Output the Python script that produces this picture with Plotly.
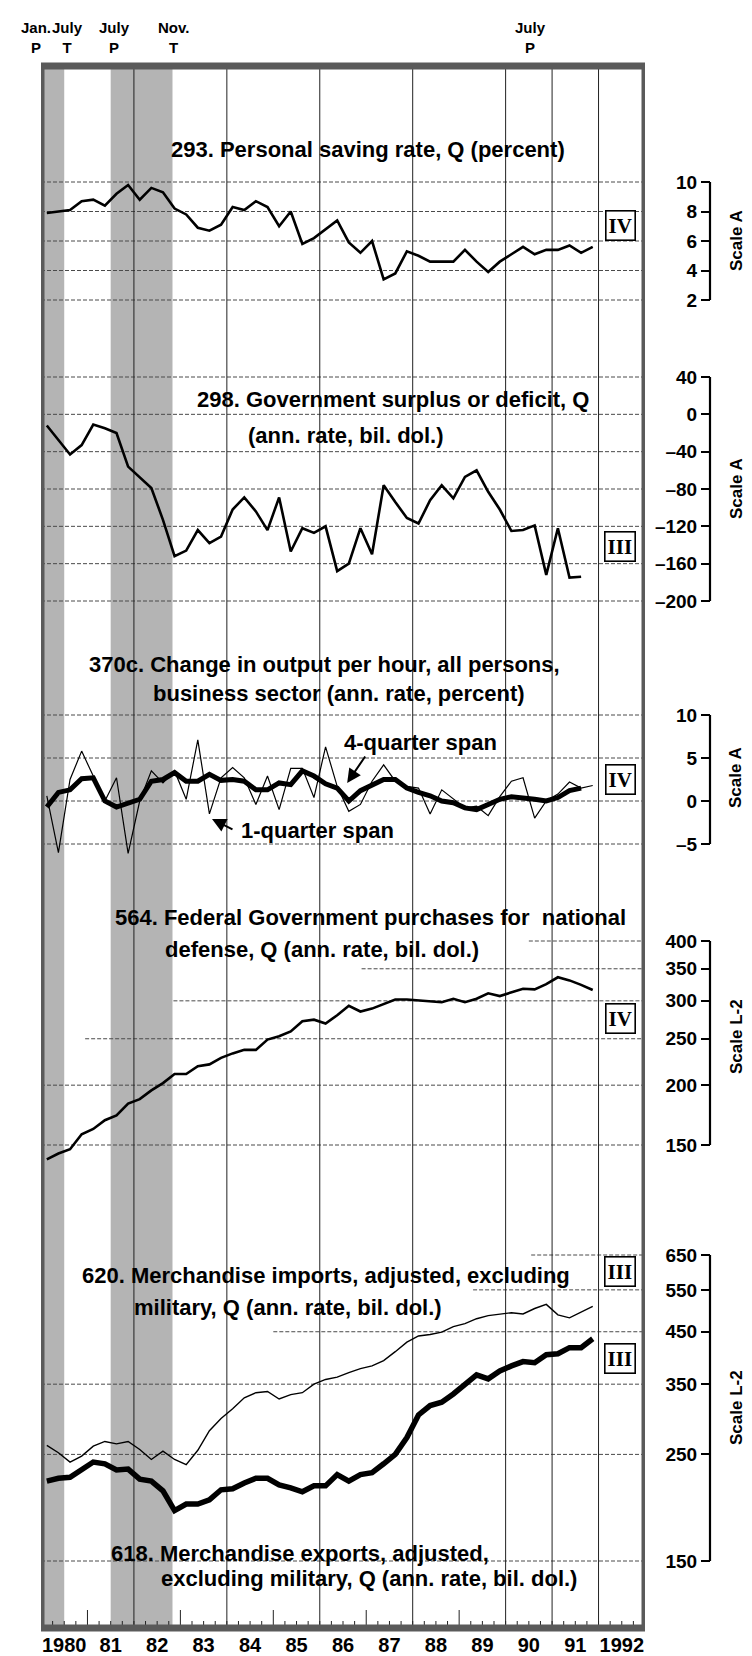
import numpy as np
import plotly.graph_objects as go

# ---------------- data (quarterly, 1980 Q1 onward) ----------------
quarter_index = np.arange(48)
quarters = 1980.125 + 0.25 * quarter_index  # mid-quarter positions

saving_rate = [7.9, 8.0, 8.1, 8.7, 8.8, 8.4, 9.2, 9.8, 8.8, 9.6, 9.3, 8.2,
               7.8, 6.9, 6.7, 7.1, 8.3, 8.1, 8.7, 8.3, 7.0, 8.0, 5.8, 6.2,
               6.8, 7.4, 5.9, 5.2, 6.0, 3.4, 3.8, 5.3, 5.0, 4.6, 4.6, 4.6,
               5.4, 4.6, 3.9, 4.6, 5.1, 5.6, 5.1, 5.4, 5.4, 5.7, 5.2, 5.6]

gov_surplus = [-12, -28, -43, -33, -11, -15, -20, -56, -67, -79, -113, -152,
               -146, -124, -138, -131, -102, -89, -104, -124, -89, -147, -122, -127,
               -120, -168, -160, -122, -150, -76, -94, -111, -117, -92, -76, -90,
               -67, -60, -83, -102, -125, -124, -119, -172, -122, -175, -174]

prod_1q = [0.6, -6.0, 2.5, 5.8, 2.9, 0.0, 2.7, -6.1, 0.0, 3.5, 2.1, 3.5,
           0.2, 7.1, -1.5, 2.7, 3.9, 2.7, -0.4, 2.9, -1.0, 3.8, 3.8, 0.4,
           6.3, 1.7, -1.2, -0.4, 2.3, 4.2, 2.3, 1.7, 1.5, -1.5, 1.3, 0.2,
           -0.8, -0.6, -1.7, 0.5, 2.3, 2.7, -2.0, 0.0, 0.8, 2.2, 1.5, 1.8]

prod_4q = [-0.7, 1.0, 1.3, 2.6, 2.7, 0.0, -0.7, -0.3, 0.2, 2.3, 2.5, 3.3,
           2.3, 2.3, 3.1, 2.4, 2.5, 2.3, 1.3, 1.3, 2.1, 1.9, 3.5, 2.9,
           2.0, 1.5, 0.0, 1.2, 1.9, 2.5, 2.5, 1.5, 1.0, 0.6, 0.0, -0.2,
           -0.8, -1.0, -0.4, 0.2, 0.5, 0.4, 0.2, 0.0, 0.4, 1.2, 1.5]

defense = [140, 144, 147, 158, 162, 169, 173, 183, 187, 195, 202, 211,
           211, 219, 221, 228, 233, 237, 237, 249, 253, 259, 272, 274,
           269, 280, 293, 285, 289, 296, 302, 302, 301, 300, 298, 303,
           298, 303, 311, 307, 313, 318, 317, 325, 336, 331, 324, 316]

imports = [261, 252, 241, 248, 260, 266, 263, 266, 256, 244, 254, 244,
           238, 255, 280, 297, 311, 328, 336, 338, 326, 333, 336, 350,
           358, 362, 370, 377, 382, 392, 409, 428, 441, 444, 449, 461,
           468, 479, 486, 490, 493, 490, 503, 513, 488, 481, 495, 508]

exports = [220, 223, 224, 232, 241, 239, 232, 233, 222, 220, 210, 191,
           197, 197, 201, 211, 212, 218, 223, 223, 216, 213, 209, 215,
           215, 227, 220, 227, 229, 239, 250, 271, 302, 316, 321, 334,
           349, 366, 359, 373, 382, 390, 388, 403, 405, 417, 417, 435]

year_ticks = [1980.5 + i for i in range(13)]
year_labels = ['1980', '81', '82', '83', '84', '85', '86', '87', '88', '89', '90', '91', '1992']
full_lines = [1982, 1984, 1986, 1988, 1990, 1991, 1992]
tall_ticks = [1981, 1983, 1985, 1987, 1989]
recessions = [(1980.0, 1980.5), (1981.5, 1982.83)]

p1_ticks = [2, 4, 6, 8, 10]
p2_ticks = [-200, -160, -120, -80, -40, 0, 40]
p3_ticks = [-5, 0, 5, 10]
p4_ticks = [150, 200, 250, 300, 350, 400]
p5_ticks = [150, 250, 350, 450, 550, 650]

# ---------------- geometry ----------------
W, H = 752, 1656
ML, MR, MT, MB = 33, 0, 58, 36
PW = W - ML - MR
PH = H - MT - MB
X0, X1 = 1980, 1993
XD = (637 - ML) / PW          # right edge of frame
AXPOS = (702 - ML) / PW       # scale axis position


def px_x(X):
    return (X - ML) / PW


def px_y(Y):
    return (H - MB - Y) / PH


FONT = "Liberation Sans, Arial, Helvetica, sans-serif"

panels = [
    dict(name='y', ticks=p1_ticks, a=10, Ya=174, b=2, Yb=292, lo=1.5, hi=10.5, log=False,
         scale='Scale A', scale_y=233, boxes=[('IV', 218)], grid_start={}),
    dict(name='y2', ticks=p2_ticks, a=40, Ya=369, b=-200, Yb=593, lo=-205, hi=45, log=False,
         scale='Scale A', scale_y=481, boxes=[('III', 538)], grid_start={}),
    dict(name='y3', ticks=p3_ticks, a=10, Ya=707, b=-5, Yb=836, lo=-7.5, hi=11, log=False,
         scale='Scale A', scale_y=770, boxes=[('IV', 771)], grid_start={}),
    dict(name='y4', ticks=p4_ticks, a=400, Ya=933, b=150, Yb=1137, lo=125, hi=420, log=True,
         scale='Scale L-2', scale_y=1029, boxes=[('IV', 1010)],
         grid_start={400: 1990.5, 350: 1986.9, 300: 1982.85, 250: 1980.95}),
    dict(name='y5', ticks=p5_ticks, a=650, Ya=1247, b=150, Yb=1553, lo=140, hi=680, log=True,
         scale='Scale L-2', scale_y=1400, boxes=[('III', 1263), ('III', 1350)],
         grid_start={650: 1990.55, 550: 1989.3, 450: 1985.0}),
]


def make_map(p):
    f = np.log10 if p['log'] else (lambda v: v)
    a, b = f(p['a']), f(p['b'])

    def Y(v):
        return p['Ya'] + (f(v) - a) * (p['Yb'] - p['Ya']) / (b - a)
    return Y


fig = go.Figure()

# ---------------- traces ----------------
fig.add_trace(go.Scatter(x=quarters, y=saving_rate, yaxis='y', mode='lines',
                         line=dict(color='black', width=2.6)))
fig.add_trace(go.Scatter(x=quarters[:len(gov_surplus)], y=gov_surplus, yaxis='y2', mode='lines',
                         line=dict(color='black', width=2.6)))
fig.add_trace(go.Scatter(x=quarters, y=prod_1q, yaxis='y3', mode='lines',
                         line=dict(color='black', width=1.2)))
fig.add_trace(go.Scatter(x=quarters[:len(prod_4q)], y=prod_4q, yaxis='y3', mode='lines',
                         line=dict(color='black', width=5)))
fig.add_trace(go.Scatter(x=quarters, y=defense, yaxis='y4', mode='lines',
                         line=dict(color='black', width=2.6)))
fig.add_trace(go.Scatter(x=quarters, y=imports, yaxis='y5', mode='lines',
                         line=dict(color='black', width=1.4)))
fig.add_trace(go.Scatter(x=quarters, y=exports, yaxis='y5', mode='lines',
                         line=dict(color='black', width=5.5)))

shapes = []
annotations = []

# recession shading
for s, e in recessions:
    shapes.append(dict(type='rect', xref='x', yref='paper', x0=s, x1=e, y0=0, y1=1,
                       fillcolor='#b4b4b4', line=dict(width=0), layer='below'))

layout_axes = {}
for p in panels:
    Y = make_map(p)
    dom = [px_y(Y(p['lo'])), px_y(Y(p['hi']))]
    rng = [np.log10(p['lo']), np.log10(p['hi'])] if p['log'] else [p['lo'], p['hi']]
    key = 'yaxis' if p['name'] == 'y' else 'yaxis' + p['name'][1:]
    layout_axes[key] = dict(
        domain=dom, range=rng, type='log' if p['log'] else 'linear',
        anchor='free', position=AXPOS, side='left',
        tickvals=p['ticks'], ticktext=[str(t).replace('-', '\u2013') for t in p['ticks']],
        ticks='outside', ticklen=9, tickwidth=2, tickcolor='black',
        showline=False, showgrid=False, zeroline=False,
        tickfont=dict(family=FONT, size=19, color='black', weight='bold'),
        fixedrange=True,
    )
    # axis line
    shapes.append(dict(type='line', xref='paper', yref='paper', x0=AXPOS, x1=AXPOS,
                       y0=px_y(Y(min(p['ticks']))), y1=px_y(Y(max(p['ticks']))),
                       line=dict(color='black', width=2.2)))
    # dashed gridlines
    for t in p['ticks']:
        xs = p['grid_start'].get(t, X0)
        shapes.append(dict(type='line', xref='x', yref='paper', x0=xs, x1=X1,
                           y0=px_y(Y(t)), y1=px_y(Y(t)),
                           line=dict(color='#4a4a4a', width=1, dash='4px,2px'), layer='below'))
    # scale label
    annotations.append(dict(xref='paper', yref='paper', x=px_x(728), y=px_y(p['scale_y']),
                            text=p['scale'], textangle=-90, showarrow=False,
                            font=dict(family=FONT, size=17, color='black', weight='bold'),
                            xanchor='center', yanchor='middle'))
    for txt, by in p['boxes']:
        annotations.append(dict(xref='paper', yref='paper', x=px_x(612), y=px_y(by),
                                text=txt, showarrow=False, bgcolor='white',
                                bordercolor='black', borderwidth=1.6, borderpad=2,
                                font=dict(family='Liberation Serif, Times New Roman, serif',
                                          size=21, color='black', weight='bold'),
                                xanchor='center', yanchor='middle'))

# full-height vertical year lines
for yr in full_lines:
    shapes.append(dict(type='line', xref='x', yref='paper', x0=yr, x1=yr, y0=0, y1=1,
                       line=dict(color='#222222', width=1), layer='below'))

# bottom tick marks
for q in np.arange(X0 + 0.25, X1, 0.25):
    h = 7
    if any(abs(q - t) < 1e-6 for t in tall_ticks):
        h = 18
    shapes.append(dict(type='line', xref='x', yref='paper', x0=q, x1=q,
                       y0=0, y1=h / PH, line=dict(color='#222222', width=1)))

# frame
shapes.append(dict(type='rect', xref='x', yref='paper', x0=X0, x1=X1, y0=0, y1=1,
                   line=dict(color='#5a5a5a', width=7), layer='above'))

# titles
TF = dict(family=FONT, size=22, color='black', weight='bold')
titles = [
    ("293. Personal saving rate, Q (percent)", 161, 142),
    ("298. Government surplus or deficit, Q", 187, 391),
    ("(ann. rate, bil. dol.)", 238, 427),
    ("370c. Change in output per hour, all persons,", 79, 656),
    ("business sector (ann. rate, percent)", 143, 685),
    ("4-quarter span", 334, 735),
    ("1-quarter span", 231, 822),
    ("564. Federal Government purchases for  national", 105, 910),
    ("defense, Q (ann. rate, bil. dol.)", 155, 941),
    ("620. Merchandise imports, adjusted, excluding", 72, 1267),
    ("military, Q (ann. rate, bil. dol.)", 124, 1299),
    ("618. Merchandise exports, adjusted,", 101, 1545),
    ("excluding military, Q (ann. rate, bil. dol.)", 151, 1570),
]
for txt, xl, yc in titles:
    annotations.append(dict(xref='paper', yref='paper', x=px_x(xl), y=px_y(yc), text=txt,
                            showarrow=False, xanchor='left', yanchor='middle', font=TF))

# arrows for span labels
annotations.append(dict(xref='x', yref='y3', x=1986.59, y=2.1, ax=19, ay=-28, text='',
                        showarrow=True, arrowhead=2, arrowsize=1.4, arrowwidth=2,
                        arrowcolor='black'))
annotations.append(dict(xref='x', yref='y3', x=1983.68, y=-2.1, ax=22, ay=11, text='',
                        showarrow=True, arrowhead=2, arrowsize=1.4, arrowwidth=2,
                        arrowcolor='black'))

# cycle turning point labels at the top (centre x in pixels)
turns = [("Jan.<br>P", 28), ("July<br>T", 59), ("July<br>P", 106),
         ("Nov.<br>T", 165), ("July<br>P", 522)]
for txt, xpx in turns:
    annotations.append(dict(xref='paper', yref='paper', x=px_x(xpx), y=px_y(29), text=txt,
                            showarrow=False, xanchor='center', yanchor='middle',
                            font=dict(family=FONT, size=15, color='black', weight='bold')))

fig.update_layout(
    width=W, height=H,
    margin=dict(l=ML, r=MR, t=MT, b=MB, autoexpand=False),
    paper_bgcolor='white', plot_bgcolor='white',
    showlegend=False, hovermode=False,
    xaxis=dict(domain=[0, XD], range=[X0, X1], anchor='free', position=0,
               tickvals=year_ticks, ticktext=year_labels, ticks='', ticklen=0,
               showgrid=False, zeroline=False, showline=False,
               ticklabelstandoff=3,
               tickfont=dict(family=FONT, size=20, color='black', weight='bold'),
               fixedrange=True),
    shapes=shapes,
    annotations=annotations,
    **layout_axes,
)

fig.write_html("out.html")
